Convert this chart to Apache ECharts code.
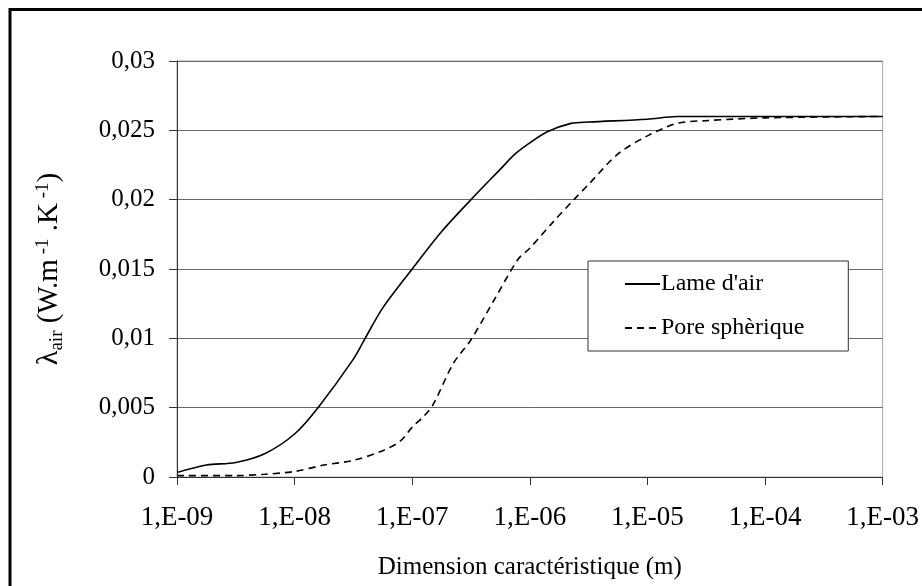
<!DOCTYPE html>
<html>
<head>
<meta charset="utf-8">
<script src="https://cdn.jsdelivr.net/npm/echarts@6/dist/echarts.min.js"></script>
<style>
    html, body { margin: 0; padding: 0; background: #fff; }
    #chart { width: 922px; height: 586px; }
</style>
</head>
<body>
<div id="chart"></div>
<script>
// Lame d'air (trait plein)
const lameX = [1e-9, 1.78e-9, 3.16e-9, 5.62e-9, 1e-8, 1.58e-8, 3.16e-8, 3.98e-8, 5.62e-8, 1e-7,
    1.78e-7, 3.16e-7, 5.62e-7, 7.5e-7, 1e-6, 1.41e-6, 2.24e-6, 3.16e-6, 1e-5, 1.78e-5, 1e-4, 1e-3];
const lameY = [0.00032, 0.00086, 0.00105, 0.0017, 0.0031, 0.005, 0.0085, 0.01, 0.0122, 0.015,
    0.0177, 0.02, 0.0222, 0.0233, 0.0241, 0.0249, 0.0255, 0.0256, 0.0258, 0.026, 0.026, 0.026];

// Pore sphèrique (tirets)
const poreX = [1e-9, 3.16e-9, 5.62e-9, 1e-8, 1.78e-8, 3.16e-8, 5.62e-8, 7.94e-8, 1e-7, 1.26e-7,
    1.5e-7, 2.24e-7, 3.16e-7, 5e-7, 7.94e-7, 1e-6, 1.58e-6, 2.37e-6, 3.16e-6, 5.62e-6, 1e-5,
    1.78e-5, 3.16e-5, 1e-4, 1e-3];
const poreY = [0.0001, 0.0001, 0.0002, 0.0004, 0.00086, 0.0012, 0.0019, 0.0026, 0.0036, 0.0044,
    0.0052, 0.0082, 0.0099, 0.0128, 0.0157, 0.0165, 0.0184, 0.02, 0.0211, 0.0233, 0.0246,
    0.0255, 0.0257, 0.0259, 0.026];

const seriesNames = ["Lame d'air", "Pore sphèrique"];
const xTickLabels = ['1,E-09', '1,E-08', '1,E-07', '1,E-06', '1,E-05', '1,E-04', '1,E-03'];
const yTickLabels = ['0', '0,005', '0,01', '0,015', '0,02', '0,025', '0,03'];

const font = '"Liberation Serif", "Times New Roman", serif';

function pairs(xs, ys)
{
    return xs.map((x, i) => [x, ys[i]]);
}

const chart = echarts.init(document.getElementById('chart'));

chart.setOption({
    backgroundColor: '#fff',
    animation: false,
    textStyle: { fontFamily: font, color: '#000' },
    grid: {
        left: 177, right: 39, top: 61, bottom: 109,
        show: true, borderColor: '#a8a8a8', borderWidth: 1
    },
    legend: {
        orient: 'vertical',
        left: 588, top: 261,
        padding: [11, 44, 11, 36],
        itemGap: 20,
        itemWidth: 35, itemHeight: 14,
        backgroundColor: '#fff',
        borderColor: '#333', borderWidth: 1,
        borderRadius: 0,
        itemStyle: { opacity: 0 },
        textStyle: { fontFamily: font, fontSize: 24, color: '#000', padding: [0, 0, 0, -4] },
        data: seriesNames
    },
    xAxis: {
        type: 'log',
        logBase: 10,
        min: 1e-9, max: 1e-3,
        name: 'Dimension caractéristique (m)',
        nameLocation: 'middle',
        nameGap: 78,
        nameTextStyle: { fontFamily: font, fontSize: 25, color: '#000' },
        axisLine: { lineStyle: { color: '#333', width: 1 } },
        axisTick: { show: true, inside: false, length: 8, lineStyle: { color: '#333' } },
        minorTick: { show: false },
        splitLine: { show: false },
        axisLabel: {
            margin: 27,
            fontFamily: font, fontSize: 27, color: '#000',
            formatter: (v) => xTickLabels[Math.round(Math.log10(v)) + 9]
        }
    },
    yAxis: {
        type: 'value',
        min: 0, max: 0.03, interval: 0.005,
        name: '{l|λ}{sub|air}{n| (W.m}{sup| -1}{n| .K}{sup| -1}{n|)}',
        nameLocation: 'middle',
        nameRotate: 90,
        nameGap: 113,
        nameTextStyle: {
            fontFamily: font, fontSize: 28, color: '#000',
            rich: {
                l: { fontFamily: font, fontSize: 30, color: '#000', verticalAlign: 'bottom' },
                n: { fontFamily: font, fontSize: 29, color: '#000', verticalAlign: 'bottom' },
                sub: { fontFamily: font, fontSize: 19, color: '#000', verticalAlign: 'bottom', padding: [0, 0, -3, 0] },
                sup: { fontFamily: font, fontSize: 19, color: '#000', verticalAlign: 'top' }
            }
        },
        axisLine: { show: true, lineStyle: { color: '#333', width: 1 } },
        axisTick: { show: true, inside: false, length: 8, lineStyle: { color: '#333' } },
        splitLine: { show: true, lineStyle: { color: '#666', width: 1 } },
        axisLabel: {
            margin: 22,
            fontFamily: font, fontSize: 25, color: '#000',
            formatter: (v) => yTickLabels[Math.round(v / 0.005)]
        }
    },
    series: [
        {
            name: seriesNames[0],
            type: 'line',
            data: pairs(lameX, lameY),
            smooth: 0.3,
            symbol: 'none',
            lineStyle: { color: '#000', width: 1.6 },
            itemStyle: { color: '#000' }
        },
        {
            name: seriesNames[1],
            type: 'line',
            data: pairs(poreX, poreY),
            smooth: 0.3,
            symbol: 'none',
            lineStyle: { color: '#000', width: 1.6, type: [7, 5] },
            itemStyle: { color: '#000' }
        }
    ],
    graphic: [
        {
            type: 'rect',
            shape: { x: 10, y: 9.5, width: 1000, height: 1000 },
            style: { fill: 'none', stroke: '#000', lineWidth: 3 },
            silent: true
        }
    ]
});
</script>
</body>
</html>
